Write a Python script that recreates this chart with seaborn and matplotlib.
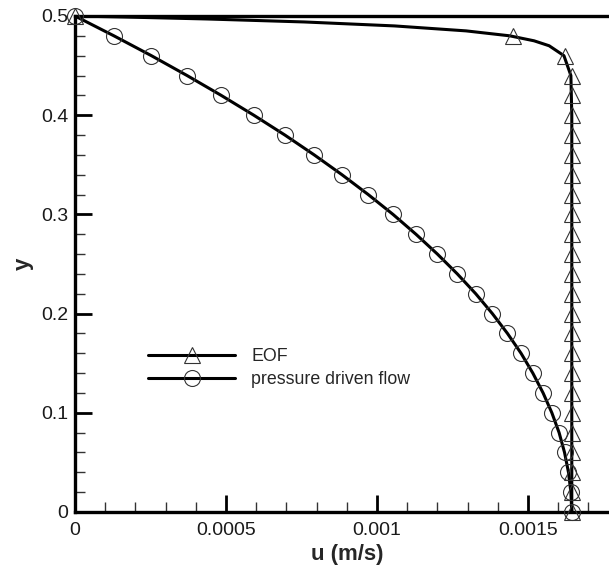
import numpy as np
import pandas as pd
import seaborn as sns
import matplotlib.pyplot as plt
from matplotlib.lines import Line2D
from matplotlib.ticker import MultipleLocator, FixedLocator, FixedFormatter

# Pressure driven flow (markers every 0.02 in y)
y_pdf = [0.50, 0.48, 0.46, 0.44, 0.42, 0.40, 0.38, 0.36, 0.34, 0.32, 0.30, 0.28, 0.26,
         0.24, 0.22, 0.20, 0.18, 0.16, 0.14, 0.12, 0.10, 0.08, 0.06, 0.04, 0.02, 0.00]
u_pdf = [0.0, 0.000129, 0.000253, 0.000371, 0.000484, 0.000592, 0.000695, 0.000792,
         0.000884, 0.000971, 0.001053, 0.001129, 0.001200, 0.001266, 0.001327, 0.001382,
         0.001432, 0.001477, 0.001516, 0.001550, 0.001579, 0.001603, 0.001621, 0.001634,
         0.001642, 0.001645]

# EOF profile (line, denser near the wall)
y_eof_line = [0.0, 0.10, 0.20, 0.30, 0.40, 0.44, 0.46, 0.47, 0.475, 0.48, 0.485,
              0.49, 0.494, 0.497, 0.499, 0.50]
u_eof_line = [0.001645, 0.001645, 0.001645, 0.001645, 0.001645, 0.001642, 0.001619,
              0.001570, 0.001520, 0.001440, 0.001295, 0.001058, 0.000759, 0.000437,
              0.000161, 0.0]

# EOF markers
y_eof_mk = [0.0, 0.02, 0.04, 0.06, 0.08, 0.10, 0.12, 0.14, 0.16, 0.18, 0.20, 0.22, 0.24,
            0.26, 0.28, 0.30, 0.32, 0.34, 0.36, 0.38, 0.40, 0.42, 0.44, 0.46, 0.48, 0.50]
u_eof_mk = [0.001645] * 23 + [0.001623, 0.001450, 0.0]

x_ticks = [0, 0.0005, 0.001, 0.0015]
x_ticklabels = ["0", "0.0005", "0.001", "0.0015"]
y_ticks = [0, 0.1, 0.2, 0.3, 0.4, 0.5]
y_ticklabels = ["0", "0.1", "0.2", "0.3", "0.4", "0.5"]

df_pdf = pd.DataFrame({'u': u_pdf, 'y': y_pdf})
df_eof = pd.DataFrame({'u': u_eof_line, 'y': y_eof_line})
df_eof_mk = pd.DataFrame({'u': u_eof_mk, 'y': y_eof_mk})

sns.set_theme(style="ticks")
plt.rcParams['font.family'] = ['Liberation Sans', 'DejaVu Sans']

fig = plt.figure(figsize=(6.09, 5.70), dpi=100)
ax = fig.add_axes([75 / 609, 1 - 512 / 570, 543.6 / 609, 496 / 570])

lw = 2.2
mk_edge = '#333333'
# estimator=None so repeated u values are not averaged
sns.lineplot(data=df_eof, x='u', y='y', sort=False, estimator=None,
             color='black', lw=lw, ax=ax)
sns.lineplot(data=df_pdf, x='u', y='y', sort=False, estimator=None,
             color='black', lw=lw, ax=ax)
ax.plot(df_eof_mk['u'], df_eof_mk['y'], ls='none', marker='^', ms=11.5,
        mfc='none', mec=mk_edge, mew=0.8, clip_on=False, zorder=4)
ax.plot(df_pdf['u'], df_pdf['y'], ls='none', marker='o', ms=11.5,
        mfc='none', mec=mk_edge, mew=0.8, clip_on=False, zorder=4)

ax.set_xlim(0, 0.0018)
ax.set_ylim(0, 0.5)

ax.xaxis.set_major_locator(FixedLocator(x_ticks))
ax.xaxis.set_major_formatter(FixedFormatter(x_ticklabels))
ax.yaxis.set_major_locator(FixedLocator(y_ticks))
ax.yaxis.set_major_formatter(FixedFormatter(y_ticklabels))
ax.xaxis.set_minor_locator(MultipleLocator(0.0001))
ax.yaxis.set_minor_locator(MultipleLocator(0.02))

ax.tick_params(which='major', direction='in', length=12, width=2, labelsize=14,
               color='black', labelcolor='#1a1a1a', pad=5)
ax.tick_params(axis='x', which='major', pad=7)
ax.tick_params(which='minor', direction='in', length=7, width=1, color='#333333')
ax.tick_params(top=False, right=False, which='both')

for side in ['left', 'bottom', 'top', 'right']:
    ax.spines[side].set_linewidth(2.4)
    ax.spines[side].set_color('black')

ax.set_xlabel("u (m/s)", fontsize=16, fontweight='bold', labelpad=4)
ax.set_ylabel("y", fontsize=16, fontweight='bold', labelpad=5)

handles = [
    Line2D([], [], color='black', lw=lw, marker='^', ms=11.5, mfc='none', mec=mk_edge, mew=0.8),
    Line2D([], [], color='black', lw=lw, marker='o', ms=11.5, mfc='none', mec=mk_edge, mew=0.8),
]
ax.legend(handles, ["EOF", "pressure driven flow"], loc='center left',
          bbox_to_anchor=(0.105, 0.29), frameon=False, fontsize=12.8,
          handlelength=4.9, labelspacing=0.35, handletextpad=0.9)

fig.savefig("out.png", dpi=100)
